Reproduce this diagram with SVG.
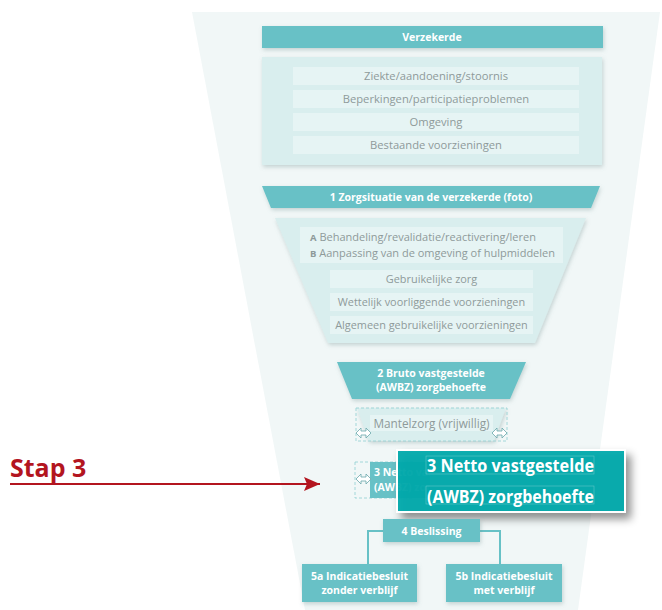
<svg xmlns="http://www.w3.org/2000/svg" width="662" height="610" viewBox="0 0 662 610">
<defs>
<style>
.bar{fill:#67c1c6}
.panel{fill:#d9eeee}
.row{fill:#e6f4f4}
.wt{fill:#fff;font-family:"Open Sans","Noto Sans",sans-serif;font-weight:bold;font-size:10.5px;text-anchor:middle}
.gt{fill:#8e9a9a;font-family:"Open Sans","Noto Sans",sans-serif;font-size:11.2px;text-anchor:middle}
.dash{fill:none;stroke:#8fcfd2;stroke-width:0.8;stroke-dasharray:3 2}
.conn{fill:none;stroke:#67c1c6;stroke-width:2}
.dbl{fill:#fff;stroke:#6aa7ab;stroke-width:0.8}
</style>
<filter id="sh" x="-10%" y="-20%" width="125%" height="150%">
<feDropShadow dx="1" dy="2" stdDeviation="2" flood-color="#6b8a8a" flood-opacity="0.35"/>
</filter>
<filter id="bigsh" x="-10%" y="-20%" width="130%" height="160%">
<feDropShadow dx="5" dy="6" stdDeviation="4" flood-color="#000" flood-opacity="0.45"/>
</filter>
<marker id="red" viewBox="0 0 16 14" refX="16" refY="7" markerWidth="16" markerHeight="14" markerUnits="userSpaceOnUse" orient="auto">
<path d="M0,0 L16,7 L0,14 L3,7 Z" fill="#b3151f"/>
</marker>
<path id="da" d="M0,0 L5,-5 L5,-2 L10,-2 L10,-5 L15,0 L10,5 L10,2 L5,2 L5,5 Z"/>
</defs>
<rect width="662" height="610" fill="#fff"/>
<polygon points="192,12 660,12 578,610 305,610" fill="#f1f7f7"/>

<g id="verzekerde">
<rect class="bar" x="262" y="26" width="341" height="22" filter="url(#sh)"/>
<text class="wt" x="432" y="40.5">Verzekerde</text>
</g>

<g id="panel-verzekerde">
<rect class="panel" x="262" y="57" width="340" height="108" filter="url(#sh)"/>
<rect class="row" x="293" y="67" width="286" height="18"/>
<text class="gt" x="436" y="80">Ziekte/aandoening/stoornis</text>
<rect class="row" x="293" y="90" width="286" height="18"/>
<text class="gt" x="436" y="103">Beperkingen/participatieproblemen</text>
<rect class="row" x="293" y="113" width="286" height="18"/>
<text class="gt" x="436" y="126">Omgeving</text>
<rect class="row" x="293" y="136" width="286" height="18"/>
<text class="gt" x="436" y="149">Bestaande voorzieningen</text>
</g>

<g id="zorgsituatie">
<polygon class="bar" points="262,186 600,186 591,208 271,208" filter="url(#sh)"/>
<text class="wt" x="431" y="201">1 Zorgsituatie van de verzekerde (foto)</text>
</g>

<g id="panel-zorgsituatie">
<polygon class="panel" points="275,218 586,218 535,343 328,343" filter="url(#sh)"/>
<rect class="row" x="300" y="227" width="263" height="36"/>
<text class="gt" style="text-anchor:start;font-size:11px" x="310" y="241"><tspan font-weight="bold" font-size="9.5">A</tspan> Behandeling/revalidatie/reactivering/leren</text>
<text class="gt" style="text-anchor:start;font-size:11px" x="310" y="256.5"><tspan font-weight="bold" font-size="9.5">B</tspan> Aanpassing van de omgeving of hulpmiddelen</text>
<rect class="row" x="330" y="270" width="203" height="18"/>
<text class="gt" style="font-size:10.9px" x="431.5" y="283">Gebruikelijke zorg</text>
<rect class="row" x="330" y="293" width="203" height="18"/>
<text class="gt" style="font-size:10.9px" x="431.5" y="306">Wettelijk voorliggende voorzieningen</text>
<rect class="row" x="330" y="316" width="203" height="18"/>
<text class="gt" style="font-size:10.9px" x="431.5" y="329">Algemeen gebruikelijke voorzieningen</text>
</g>

<g id="bruto">
<polygon class="bar" points="337,362 526,362 510,399 352,399" filter="url(#sh)"/>
<text class="wt" x="431" y="377">2 Bruto vastgestelde</text>
<text class="wt" x="431" y="391">(AWBZ) zorgbehoefte</text>
</g>

<g id="mantelzorg">
<polygon class="panel" points="357,408 506,408 494,441 369,441" filter="url(#sh)"/>
<rect class="dash" x="356" y="408" width="151" height="33"/>
<rect class="row" x="370" y="415" width="123" height="16"/>
<text class="gt" style="font-size:11.8px" x="431.5" y="427.5">Mantelzorg (vrijwillig)</text>
<use href="#da" class="dbl" x="356" y="433"/>
<use href="#da" class="dbl" x="492" y="433"/>
</g>

<g id="netto-klein">
<rect class="dash" x="355" y="462" width="58" height="36"/>
<rect class="bar" x="370" y="462" width="60" height="36"/>
<text class="wt" style="text-anchor:start" x="374" y="476">3 Netto vastgestelde</text>
<text class="wt" style="text-anchor:start" x="374" y="491">(AWBZ) zorgbehoefte</text>
<use href="#da" class="dbl" x="356" y="479"/>
</g>

<g id="netto-groot">
<rect x="397" y="450" width="228" height="62" fill="#00a9ab" fill-opacity="0.94" stroke="#fff" stroke-width="2" filter="url(#bigsh)"/>
<rect x="426" y="456" width="168" height="18" fill="none" stroke="#5fc6c8" stroke-width="0.6"/>
<rect x="426" y="486" width="168" height="18" fill="none" stroke="#5fc6c8" stroke-width="0.6"/>
<text x="427" y="472" fill="#fff" font-family="'Open Sans','Noto Sans',sans-serif" font-weight="bold" font-size="17" textLength="167" lengthAdjust="spacingAndGlyphs">3  Netto vastgestelde</text>
<text x="427" y="503" fill="#fff" font-family="'Open Sans','Noto Sans',sans-serif" font-weight="bold" font-size="17" textLength="167" lengthAdjust="spacingAndGlyphs">(AWBZ) zorgbehoefte</text>
</g>

<g id="connectors">
<polyline class="conn" points="383,531 368,531 368,565"/>
<polyline class="conn" points="480,531 500,531 500,565"/>
</g>

<g id="beslissing">
<rect class="bar" x="383" y="519" width="97" height="23" filter="url(#sh)"/>
<text class="wt" x="431.5" y="534.5">4 Beslissing</text>
</g>

<g id="besluit-5a">
<rect class="bar" x="302" y="564" width="115" height="38" filter="url(#sh)"/>
<text class="wt" x="359.5" y="580">5a Indicatiebesluit</text>
<text class="wt" x="359.5" y="594">zonder verblijf</text>
</g>

<g id="besluit-5b">
<rect class="bar" x="446" y="564" width="116" height="38" filter="url(#sh)"/>
<text class="wt" x="504" y="580">5b Indicatiebesluit</text>
<text class="wt" x="504" y="594">met verblijf</text>
</g>

<g id="stap3">
<text x="10" y="477" fill="#b3151f" font-family="'Open Sans','Noto Sans',sans-serif" font-weight="bold" font-size="25">Stap 3</text>
<line x1="10" y1="484" x2="320" y2="484" stroke="#b3151f" stroke-width="2" marker-end="url(#red)"/>
</g>
</svg>
